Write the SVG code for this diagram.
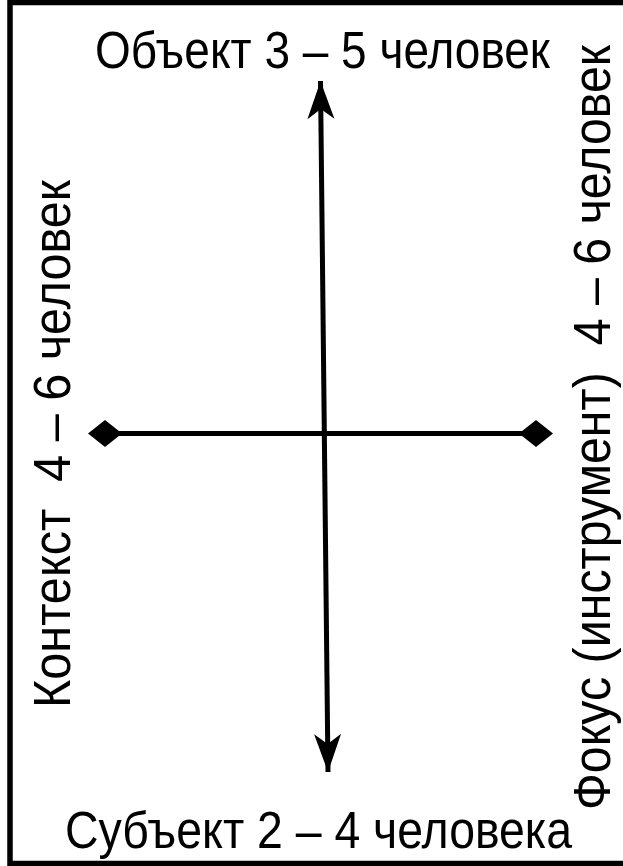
<svg xmlns="http://www.w3.org/2000/svg" width="623" height="866" viewBox="0 0 623 866">
<style>
.lbl{font-family:"Liberation Sans",Arial,sans-serif;fill:#000;white-space:pre;font-size:51px}
.ax{stroke:#000;stroke-width:5;fill:none}
</style>
<defs>
<marker id="arr" markerUnits="userSpaceOnUse" viewBox="-40 -15 42 30" markerWidth="42" markerHeight="30" refX="0" refY="0" orient="auto-start-reverse">
<path d="M0,0 L-38,-13.5 L-28,0 L-38,13.5 Z" fill="#000"/>
</marker>
<marker id="dia" markerUnits="userSpaceOnUse" viewBox="-18 -14 36 28" markerWidth="36" markerHeight="28" refX="0" refY="0" orient="auto">
<path d="M-17,0 L0,-13.5 L17,0 L0,13.5 Z" fill="#000"/>
</marker>
</defs>
<rect x="0" y="0" width="623" height="866" fill="#fff"/>
<rect id="frame" x="10" y="2.5" width="630" height="861" fill="none" stroke="#000" stroke-width="5.5"/>
<g id="connectors">
<line class="ax" x1="320.5" y1="81" x2="328" y2="772" marker-start="url(#arr)" marker-end="url(#arr)"/>
<line class="ax" x1="105" y1="433.5" x2="536" y2="433.5" marker-start="url(#dia)" marker-end="url(#dia)"/>
</g>
<g id="top"><text class="lbl" x="95" y="68" textLength="455" lengthAdjust="spacingAndGlyphs">Объект 3 – 5 человек</text></g>
<g id="bottom"><text class="lbl" x="65" y="848" font-size="50" textLength="507" lengthAdjust="spacingAndGlyphs">Субъект 2 – 4 человека</text></g>
<g id="left"><text class="lbl" transform="translate(70,708) rotate(-90)" textLength="528" lengthAdjust="spacingAndGlyphs">Контекст  4 – 6 человек</text></g>
<g id="right"><text class="lbl" transform="translate(610,810) rotate(-90)" font-size="49" textLength="765" lengthAdjust="spacingAndGlyphs">Фокус (инструмент)  4 – 6 человек</text></g>
</svg>
